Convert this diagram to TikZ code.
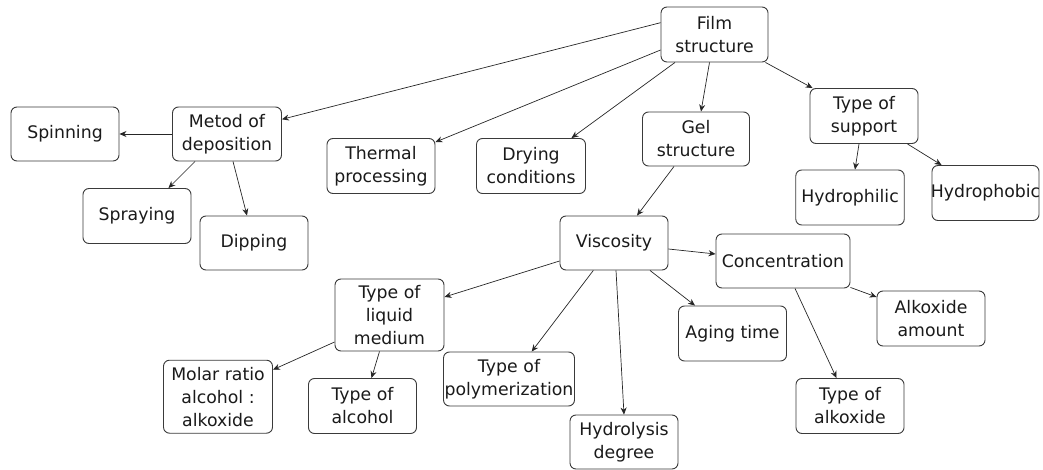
\documentclass[tikz,border=0pt]{standalone}
\usepackage{fontspec}
\setmainfont{DejaVu Sans}
\usetikzlibrary{arrows.meta}
\definecolor{boxline}{HTML}{3a3a3a}
\definecolor{txt}{HTML}{1a1a1a}
\tikzset{
  box/.style={draw=boxline, line width=0.9pt, rounded corners=6pt, fill=white,
    align=center, inner sep=0pt, text=txt,
    font=\fontsize{17.3}{23}\selectfont},
  conn/.style={draw=black!85, line width=0.7pt, -{Stealth[length=7pt,width=6pt]}}
}
\begin{document}
\begin{tikzpicture}[x=1pt,y=-1pt]
\useasboundingbox (0,0) rectangle (1043,470);
\node[box, minimum width=107pt, minimum height=55pt] (film) at (714.5,34.5) {Film\\structure};
\node[box, minimum width=109pt, minimum height=54pt] (metod) at (227,134) {Metod of\\deposition};
\node[box, minimum width=108pt, minimum height=54pt] (spin) at (65,134) {Spinning};
\node[box, minimum width=108pt, minimum height=55pt] (spray) at (137,216) {Spraying};
\node[box, minimum width=108pt, minimum height=54pt] (dip) at (254,243) {Dipping};
\node[box, minimum width=108pt, minimum height=55pt] (thermal) at (381,166) {Thermal\\processing};
\node[box, minimum width=109pt, minimum height=55pt] (drying) at (531,166) {Drying\\conditions};
\node[box, minimum width=107pt, minimum height=54pt] (gel) at (696,139) {Gel\\structure};
\node[box, minimum width=108pt, minimum height=55pt] (support) at (864,116) {Type of\\support};
\node[box, minimum width=108.5pt, minimum height=55pt] (hphil) at (850,197.5) {Hydrophilic};
\node[box, minimum width=107pt, minimum height=55pt, text width=107pt] (hphob) at (985.5,193) {\hspace*{-10pt}Hydrophobic\hspace*{-10pt}};
\node[box, minimum width=108pt, minimum height=54pt] (visc) at (614,243) {Viscosity};
\node[box, minimum width=134pt, minimum height=54pt] (conc) at (783,261) {Concentration};
\node[box, minimum width=108pt, minimum height=55pt] (aging) at (732.5,333.5) {Aging time};
\node[box, minimum width=108pt, minimum height=55pt] (alkam) at (931,318.5) {Alkoxide\\amount};
\node[box, minimum width=108pt, minimum height=55pt] (talk) at (850,406) {Type of\\alkoxide};
\node[box, minimum width=108pt, minimum height=54pt] (hydro) at (624,442) {Hydrolysis\\degree};
\node[box, minimum width=109pt, minimum height=72pt] (liquid) at (389.5,315) {Type of\\liquid\\medium};
\node[box, minimum width=109pt, minimum height=73pt] (molar) at (218,396.7) {Molar ratio\\alcohol :\\alkoxide};
\node[box, minimum width=108pt, minimum height=55pt] (talc) at (362.5,406) {Type of\\alcohol};
\node[box, minimum width=131pt, minimum height=54pt, text width=131pt] (poly) at (509,379) {Type of\\\hspace*{-10pt}polymerization\hspace*{-10pt}};

\draw[conn] ([shift={(0,-11.8)}]film.west) -- ([shift={(0,-14.7)}]metod.east);
\draw[conn] ([shift={(0,15.5)}]film.west) -- ([shift={(0,4)}]thermal.north east);
\draw[conn] ([shift={(-39.5,0)}]film.south) -- ([shift={(-14.5,0)}]drying.north east);
\draw[conn] ([shift={(-5,0)}]film.south) -- ([shift={(5,0)}]gel.north);
\draw[conn] ([shift={(-3,0)}]film.south east) -- ([shift={(3,0)}]support.north west);
\draw[conn] (metod.west) -- (spin.east);
\draw[conn] ([shift={(23,0)}]metod.south west) -- ([shift={(-23,0)}]spray.north east);
\draw[conn] ([shift={(6,0)}]metod.south) -- ([shift={(-7,0)}]dip.north);
\draw[conn] ([shift={(-5,0)}]support.south) -- ([shift={(5,0)}]hphil.north);
\draw[conn] ([shift={(-11,0)}]support.south east) -- ([shift={(10,0)}]hphob.north west);
\draw[conn] ([shift={(-22,0)}]gel.south) -- ([shift={(23,0)}]visc.north);
\draw[conn] ([shift={(0,6)}]visc.east) -- ([shift={(0,-7)}]conc.west);
\draw[conn] ([shift={(36,0)}]visc.south) -- ([shift={(-37.5,0)}]aging.north);
\draw[conn] ([shift={(0,18)}]visc.west) -- ([shift={(0,-18)}]liquid.east);
\draw[conn] ([shift={(-20.7,0)}]visc.south) -- ([shift={(22.7,0)}]poly.north);
\draw[conn] ([shift={(2,0)}]visc.south) -- (hydro.north);
\draw[conn] ([shift={(0,-1)}]conc.south east) -- ([shift={(0,-21.5)}]alkam.west);
\draw[conn] ([shift={(12,0)}]conc.south) -- ([shift={(-13.5,0)}]talk.north);
\draw[conn] ([shift={(0,27)}]liquid.west) -- ([shift={(0,-27)}]molar.east);
\draw[conn] ([shift={(-10,0)}]liquid.south) -- ([shift={(9,0)}]talc.north);
\end{tikzpicture}
\end{document}
